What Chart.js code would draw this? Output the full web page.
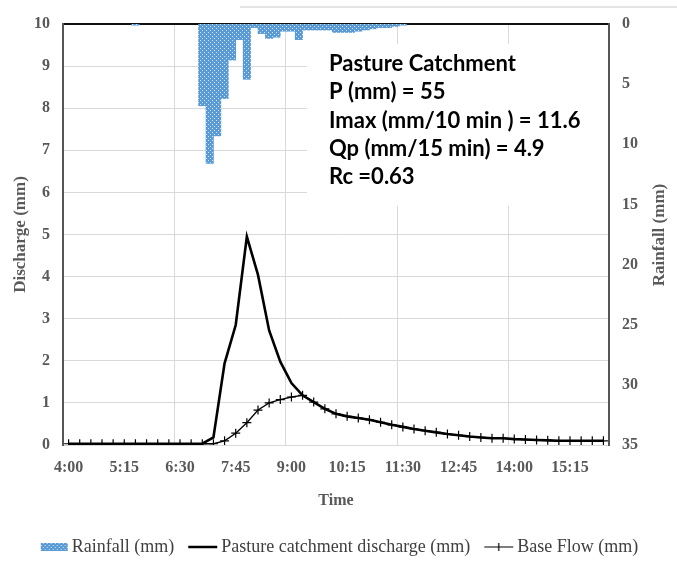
<!DOCTYPE html>
<html><head><meta charset="utf-8">
<script src="https://cdn.jsdelivr.net/npm/chart.js@4.4.0/dist/chart.umd.min.js"></script>
<style>html,body{margin:0;padding:0;background:#fff;}#wrap{width:677px;height:563px;position:relative;}</style>
</head><body><div id="wrap"><canvas id="c" width="677" height="563"></canvas></div>
<script>
// ---- data ----
const flowTimes = ['4:00','4:15','4:30','4:45','5:00','5:15','5:30','5:45','6:00','6:15','6:30','6:45','7:00','7:15','7:30','7:45','8:00','8:15','8:30','8:45','9:00','9:15','9:30','9:45','10:00','10:15','10:30','10:45','11:00','11:15','11:30','11:45','12:00','12:15','12:30','12:45','13:00','13:15','13:30','13:45','14:00','14:15','14:30','14:45','15:00','15:15','15:30','15:45','16:00'];
const discharge = [0.03,0.03,0.03,0.03,0.03,0.03,0.03,0.03,0.03,0.03,0.03,0.03,0.03,0.18,1.94,2.85,4.95,4.04,2.72,1.98,1.47,1.18,1.02,0.86,0.74,0.68,0.64,0.60,0.54,0.48,0.43,0.38,0.34,0.30,0.26,0.23,0.20,0.18,0.16,0.16,0.14,0.13,0.12,0.11,0.10,0.10,0.10,0.10,0.10];
const baseFlow = [0.03,0.03,0.03,0.03,0.03,0.03,0.03,0.03,0.03,0.03,0.03,0.03,0.03,0.03,0.10,0.28,0.53,0.83,1.00,1.08,1.14,1.18,1.02,0.86,0.74,0.68,0.64,0.60,0.54,0.48,0.43,0.38,0.34,0.30,0.26,0.23,0.20,0.18,0.16,0.16,0.14,0.13,0.12,0.11,0.10,0.10,0.10,0.10,0.10];
const rainTimes = ['5:30','7:00','7:10','7:20','7:30','7:40','7:50','8:00','8:10','8:20','8:30','8:40','8:50','9:00','9:10','9:20','9:30','9:40','9:50','10:00','10:10','10:20','10:30','10:40','10:50','11:00','11:10','11:20','11:30'];
const rainfall = [0.1,6.8,11.6,9.3,6.2,3.0,1.3,4.6,0.3,0.8,1.2,1.1,0.6,0.6,1.3,0.5,0.5,0.5,0.5,0.7,0.7,0.7,0.6,0.5,0.4,0.3,0.3,0.2,0.1];
const xTickLabels = ['4:00','5:15','6:30','7:45','9:00','10:15','11:30','12:45','14:00','15:15'];
const dischargeTicks = [0,1,2,3,4,5,6,7,8,9,10];
const rainTicks = [0,5,10,15,20,25,30,35];
const seriesNames = ['Rainfall (mm)','Pasture catchment discharge (mm)','Base Flow (mm)'];
const axisTitles = {x:'Time', y:'Discharge (mm)', y2:'Rainfall (mm)'};
const annotLines = ['Pasture Catchment','P (mm) = 55','Imax (mm/10 min ) = 11.6','Qp (mm/15 min) = 4.9','Rc =0.63'];

// ---- helpers ----
const toMin = t => { const [h,m] = t.split(':').map(Number); return (h-4)*60 + m; };
const stepMin = toMin(flowTimes[1]) - toMin(flowTimes[0]);
const xMin = toMin(flowTimes[0]) - stepMin/2;
const xMax = toMin(flowTimes[flowTimes.length-1]) + stepMin/2;
const gridVals = [];
for (let k = 10; k < flowTimes.length; k += 10) gridVals.push((toMin(flowTimes[k-1]) + toMin(flowTimes[k]))/2);

function patternCanvas(){
  const p = document.createElement('canvas'); p.width=4; p.height=4;
  const g = p.getContext('2d');
  g.fillStyle='#5b9bd5'; g.fillRect(0,0,4,4);
  g.fillStyle='#d2e4f5'; g.fillRect(0,0,1,1); g.fillRect(2,2,1,1);
  return p;
}
const patTile = patternCanvas();
const ctx0 = document.getElementById('c').getContext('2d');
const rainPattern = ctx0.createPattern(patTile,'repeat');

function legendImg(kind){
  const W=60,H=12; const c=document.createElement('canvas'); c.width=W; c.height=H;
  const g=c.getContext('2d');
  const a=18, b=47;
  if(kind===0){ g.fillStyle=g.createPattern(patTile,'repeat'); g.fillRect(a+2,2,b-a-2,8); }
  else if(kind===1){ g.strokeStyle='#000'; g.lineWidth=2.5; g.beginPath(); g.moveTo(a,6); g.lineTo(b,6); g.stroke(); }
  else { g.strokeStyle='#000'; g.lineWidth=1.2; g.beginPath(); g.moveTo(a,6); g.lineTo(b,6); g.moveTo((a+b)/2,2); g.lineTo((a+b)/2,10); g.stroke(); }
  return c;
}
const legendImgs=[legendImg(0),legendImg(1),legendImg(2)];

const serif = "'Liberation Serif', 'Times New Roman', serif";
const gray = '#595959';

const decor = {
  id:'decor',
  beforeDraw(chart){
    const c=chart.ctx; c.save(); c.strokeStyle='#e4e4e4'; c.lineWidth=2;
    c.beginPath(); c.moveTo(240,7); c.lineTo(677,7); c.stroke(); c.restore();
  },
  beforeDatasetsDraw(chart){
    const c=chart.ctx, a=chart.chartArea; c.save(); c.fillStyle='#fff';
    c.fillRect(307, 44, a.right-1-307, 206-44); c.restore();
  },
  afterDatasetsDraw(chart){
    const c=chart.ctx; c.save(); c.fillStyle='#000';
    c.font="bold 22px Lato, 'Liberation Sans', sans-serif"; c.textBaseline='middle'; c.textAlign='left';
    annotLines.forEach((s,i)=>c.fillText(s, 329, 64 + i*28.3));
    c.restore();
  },
  afterDraw(chart){
    const c=chart.ctx; c.save(); c.fillStyle=gray; c.font='bold 17px '+serif;
    c.translate(660,235); c.rotate(-Math.PI/2); c.textAlign='center'; c.textBaseline='middle';
    c.fillText(axisTitles.y2,0,0); c.restore();
  }
};

new Chart(ctx0, {
  type:'bar',
  data:{ datasets:[
    {type:'bar', label:seriesNames[0], data: rainTimes.map((t,i)=>({x:toMin(t), y:rainfall[i]})),
     xAxisID:'x', yAxisID:'y2', backgroundColor:rainPattern, borderWidth:0, barPercentage:1, categoryPercentage:1, order:3},
    {type:'line', label:seriesNames[1], data: flowTimes.map((t,i)=>({x:toMin(t), y:discharge[i]})),
     xAxisID:'x', yAxisID:'y', borderColor:'#000', borderWidth:2.6, pointRadius:0, tension:0, fill:false, order:2},
    {type:'line', label:seriesNames[2], data: flowTimes.map((t,i)=>({x:toMin(t), y:baseFlow[i]})),
     xAxisID:'x', yAxisID:'y', borderColor:'#000', borderWidth:1.3, pointStyle:'cross', pointRadius:4.5,
     pointBorderWidth:1.2, pointBorderColor:'#000', tension:0, fill:false, order:1}
  ]},
  options:{
    responsive:false, animation:false, devicePixelRatio:1,
    layout:{padding:{top:24,left:0,right:0,bottom:-3}},
    plugins:{
      tooltip:{enabled:false},
      legend:{position:'bottom', labels:{
        usePointStyle:true, pointStyleWidth:24, boxHeight:12, padding:14, color:'#404040',
        font:{family:serif, size:18},
        generateLabels:()=>seriesNames.map((n,i)=>({text:n, pointStyle:legendImgs[i], datasetIndex:i, hidden:false, fillStyle:'rgba(0,0,0,0)', strokeStyle:'rgba(0,0,0,0)', lineWidth:0, fontColor:'#404040'}))
      }}
    },
    scales:{
      x:{type:'linear', position:'bottom', min:xMin, max:xMax, offset:false,
         afterBuildTicks:s=>{ s.ticks = xTickLabels.map(t=>({value:toMin(t)})); },
         afterFit:s=>{ s.height=79; },
         ticks:{autoSkip:false, maxRotation:0, padding:13, color:gray, font:{family:serif,size:16,weight:'bold'},
                callback:(v,i)=>xTickLabels[i]},
         grid:{display:false, drawTicks:false, offset:false},
         border:{display:true, color:'#d9d9d9', width:1},
         title:{display:true, text:axisTitles.x, color:gray, font:{family:serif,size:16,weight:'bold'}, padding:{top:0,bottom:14}}
      },
      xg:{type:'linear', position:'top', min:xMin, max:xMax, offset:false,
         afterBuildTicks:s=>{ s.ticks = gridVals.map(v=>({value:v})); },
         afterFit:s=>{ s.height=0; },
         ticks:{display:false},
         grid:{display:true, drawTicks:false, offset:false, color:'#d9d9d9', lineWidth:1},
         border:{display:true, color:'#111', width:2}
      },
      y:{type:'linear', position:'left', min:0, max:10,
         afterBuildTicks:s=>{ s.ticks = dischargeTicks.map(v=>({value:v})); },
         afterFit:s=>{ s.width=63; },
         ticks:{padding:13, color:gray, font:{family:serif,size:16,weight:'bold'}},
         grid:{drawTicks:false, color:c=>c.tick && c.tick.value===10 ? 'rgba(0,0,0,0)' : '#d9d9d9', lineWidth:1},
         border:{display:true, color:'#555', width:2},
         title:{display:true, text:axisTitles.y, color:gray, font:{family:serif,size:17,weight:'bold'}, padding:{top:10,bottom:0}}
      },
      y2:{type:'linear', position:'right', reverse:true, min:0, max:35,
         afterBuildTicks:s=>{ s.ticks = rainTicks.map(v=>({value:v})); },
         afterFit:s=>{ s.width=68; },
         ticks:{padding:13, color:gray, font:{family:serif,size:16,weight:'bold'}},
         grid:{display:false, drawTicks:false},
         border:{display:true, color:'#555', width:2}
      }
    }
  },
  plugins:[decor]
});
</script></body></html>
